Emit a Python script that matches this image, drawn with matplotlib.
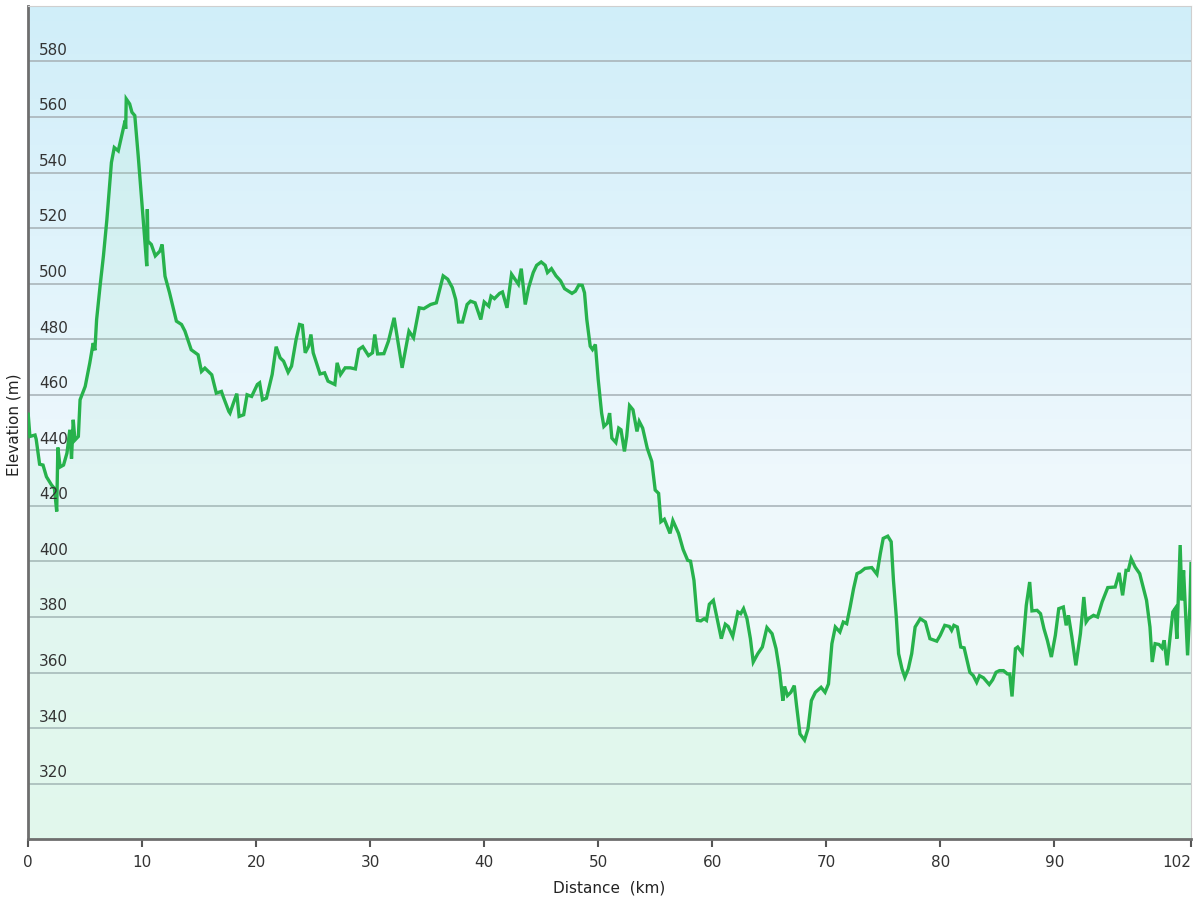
import matplotlib.pyplot as plt
import matplotlib.transforms as mtransforms
import numpy as np

# elevation profile (km, m)
distance_km = [
    0.0, 0.15, 0.6, 0.7, 1.0, 1.3, 1.6, 2.05, 2.3, 2.5, 2.6, 2.8, 3.1, 3.4, 3.65, 3.8,
    3.95, 4.1, 4.4, 4.55, 5.0, 5.4, 5.7, 5.85, 6.0, 6.3, 6.6, 6.9, 7.3, 7.55, 7.9, 8.2,
    8.5, 8.55, 8.6, 8.9, 9.1, 9.35, 9.65, 9.95, 10.2, 10.4, 10.45, 10.5, 10.8, 11.15,
    11.55, 11.75, 12.0, 12.4, 13.0, 13.45, 13.75, 14.3, 14.9, 15.2, 15.5, 16.1, 16.5,
    16.95, 17.1, 17.6, 17.7, 18.0, 18.3, 18.5, 18.9, 19.2, 19.6, 20.1, 20.3, 20.55,
    20.9, 21.4, 21.75, 22.1, 22.4, 22.8, 23.1, 23.5, 23.8, 24.05, 24.3, 24.6, 24.8,
    25.0, 25.6, 26.0, 26.3, 26.9, 27.1, 27.4, 27.8, 28.25, 28.7, 29.0, 29.35, 29.85,
    30.2, 30.4, 30.65, 31.2, 31.6, 32.1, 32.8, 33.4, 33.8, 34.3, 34.7, 35.3, 35.8,
    36.4, 36.8, 37.2, 37.5, 37.75, 38.1, 38.5, 38.8, 39.2, 39.7, 40.0, 40.4, 40.6,
    40.9, 41.35, 41.6, 42.0, 42.4, 42.8, 43.0, 43.25, 43.6, 43.9, 44.3, 44.6, 45.0,
    45.35, 45.55, 45.9, 46.3, 46.7, 47.05, 47.4, 47.7, 48.0, 48.3, 48.6, 48.8, 49.0,
    49.3, 49.5, 49.75, 50.0, 50.3, 50.5, 50.8, 51.0, 51.2, 51.55, 51.8, 52.0, 52.3,
    52.5, 52.75, 53.05, 53.4, 53.6, 53.9, 54.3, 54.7, 55.0, 55.3, 55.5, 55.8, 56.3,
    56.55, 57.05, 57.45, 57.85, 58.1, 58.4, 58.7, 59.0, 59.3, 59.5, 59.75, 60.1, 60.5,
    60.8, 61.15, 61.4, 61.8, 62.25, 62.5, 62.75, 63.05, 63.35, 63.6, 64.0, 64.4, 64.8,
    65.25, 65.6, 65.9, 66.2, 66.35, 66.6, 66.9, 67.2, 67.4, 67.7, 68.1, 68.4, 68.7,
    69.05, 69.55, 69.9, 70.2, 70.5, 70.8, 71.2, 71.5, 71.8, 72.1, 72.4, 72.7, 73.0,
    73.4, 74.0, 74.45, 74.75, 75.0, 75.4, 75.7, 75.9, 76.15, 76.35, 76.65, 76.9, 77.2,
    77.5, 77.8, 78.25, 78.7, 79.1, 79.7, 80.0, 80.4, 80.8, 81.0, 81.2, 81.5, 81.8,
    82.1, 82.6, 82.9, 83.2, 83.45, 83.8, 84.3, 84.6, 84.9, 85.2, 85.55, 85.9, 86.1,
    86.3, 86.6, 86.8, 87.2, 87.55, 87.85, 88.05, 88.5, 88.8, 89.1, 89.4, 89.75, 90.1,
    90.4, 90.8, 91.05, 91.25, 91.55, 91.9, 92.3, 92.6, 92.8, 93.0, 93.45, 93.8, 94.2,
    94.7, 95.35, 95.7, 96.0, 96.3, 96.5, 96.75, 97.1, 97.5, 97.8, 98.1, 98.4, 98.6,
    98.85, 99.2, 99.45, 99.65, 99.9, 100.2, 100.4, 100.6, 100.76, 101.05, 101.2,
    101.35, 101.7, 101.9, 102.0,
]
elevation_m = [
    453, 445, 445.5, 444, 435, 434.7, 430.5, 427.5, 426.3, 418, 441, 434, 434.7, 439,
    447.4, 437, 451, 443.7, 445, 458.2, 463, 471.4, 478.6, 476, 487, 499, 510, 523,
    543.6, 549, 547.8, 553.3, 558.7, 555.7, 566.5, 564.7, 561.7, 560.5, 546, 530.4,
    517.2, 506.3, 526.8, 515.3, 514.1, 510, 511.7, 514.1, 502.7, 496.7, 486.5, 485.3,
    482.9, 476.2, 474.4, 468.4, 469.6, 467.2, 460.6, 461.2, 459.4, 454, 453.4, 457,
    460.4, 452.2, 452.8, 460, 459.4, 463.7, 464.3, 458.2, 458.8, 467.3, 477.3, 473.3,
    472.1, 468.1, 470.3, 479.9, 485.3, 485, 475.1, 477.5, 481.7, 475.1, 467.5, 467.9,
    464.9, 463.7, 471.5, 467.3, 469.7, 469.7, 469.3, 476.3, 477.3, 474.1, 475.1, 481.7,
    474.7, 474.8, 479.3, 487.7, 469.7, 482.9, 480.5, 491.3, 491, 492.5, 493.1, 502.8,
    501.6, 498.6, 494.3, 486.2, 486.2, 492.5, 493.7, 493.1, 487.1, 493.4, 491.9, 495.5,
    494.6, 496.5, 497, 491.3, 503.4, 501, 499.8, 505.4, 492.5, 498.6, 504, 506.6,
    507.8, 506.6, 504, 505.4, 502.8, 501, 498.2, 497.3, 496.5, 497.3, 499.5, 499.4,
    496.7, 487.1, 477.5, 476.3, 478.1, 465.5, 453.4, 448.6, 449.8, 453.4, 444.4, 442.8,
    448, 447.4, 439.6, 445, 456.1, 454.6, 446.8, 450.4, 448, 440.8, 436, 425.7, 424.5,
    414.3, 415.2, 410.1, 414.7, 410.1, 404.3, 400.4, 400.1, 393.2, 378.8, 378.6, 379.4,
    378.8, 384.6, 386, 378.2, 372.2, 377.4, 376.6, 373, 381.8, 381.2, 383, 379.4, 372.2,
    363.8, 366.8, 369.2, 376.2, 374, 368.6, 360.8, 349.9, 355, 351.7, 352.9, 355.3,
    348.1, 337.9, 335.7, 339.7, 349.9, 352.9, 354.7, 352.9, 355.9, 370.4, 376.4, 374.6,
    378.2, 377.6, 383.6, 390.2, 395.6, 396.2, 397.5, 397.8, 395.4, 402.9, 408.3, 409.1,
    407.1, 393.2, 380, 366.8, 361.3, 358.3, 361.3, 366.8, 376.4, 379.4, 378.2, 372.2,
    371.3, 373.4, 377, 376.6, 375.2, 377, 376.4, 369.2, 368.9, 360.1, 358.9, 356.5,
    358.9, 358.1, 355.7, 357.4, 360.1, 360.7, 360.7, 359.5, 359.5, 351.4, 368.6, 369.2,
    367, 384.2, 392.6, 382.2, 382.4, 381.2, 375.8, 371.6, 365.6, 373.4, 383, 383.6, 377,
    380.6, 372.8, 362.6, 374, 387.2, 378.2, 379.4, 380.6, 380, 385.4, 390.6, 390.8,
    395.9, 387.8, 396.8, 396.8, 401, 398, 395.6, 390.8, 386, 376.4, 363.8, 370.4, 370.1,
    368.9, 371.6, 362.6, 374, 381.8, 383, 372.2, 405.9, 386, 396.8, 366.2, 383.4, 399.2,
]

x_ticks = [0, 10, 20, 30, 40, 50, 60, 70, 80, 90, 102]
y_ticks = [320, 340, 360, 380, 400, 420, 440, 460, 480, 500, 520, 540, 560, 580]

fig = plt.figure(figsize=(12, 9), dpi=100)
ax = fig.add_axes([0.0235, 0.0675, 0.969, 0.926])
ax.set_xlim(0, 102)
ax.set_ylim(300, 600)

# background gradient: light blue on top, pale mint at the bottom
grad = np.linspace(0, 1, 256).reshape(-1, 1)
top = np.array([208, 238, 249]) / 255
mid = np.array([238, 248, 253]) / 255
bot = np.array([238, 251, 244]) / 255
colors = np.where(grad < 0.55,
                  top + (mid - top) * (grad / 0.55),
                  mid + (bot - mid) * ((grad - 0.55) / 0.45))
ax.imshow(colors.reshape(256, 1, 3), extent=[0, 102, 300, 600],
          aspect="auto", origin="upper", zorder=0)
ax.set_ylim(300, 600)

for y in y_ticks:
    ax.axhline(y, color="#aab5ba", lw=1.2, zorder=1)

ax.fill_between(distance_km, elevation_m, 300, color="#8fe6b8", alpha=0.13,
                lw=0, zorder=2)
ax.plot(distance_km, elevation_m, color="#27b24c", lw=2.4, zorder=3,
        solid_joinstyle="miter")

# y labels sit inside the plot, just above their grid line
trans = mtransforms.blended_transform_factory(ax.transAxes, ax.transData)
for y in y_ticks:
    ax.text(0.0095, y + 1.3, str(y), transform=trans, fontsize=11,
            color="#333333", va="bottom", ha="left", zorder=4)
ax.set_yticks([])

ax.set_xticks(x_ticks)
ax.set_xticklabels([str(t) for t in x_ticks], fontsize=11, color="#333333")
ax.get_xticklabels()[-1].set_horizontalalignment("right")
ax.tick_params(axis="x", direction="out", length=6, width=1.5,
               color="#555555", pad=5)

ax.set_xlabel("Distance  (km)", fontsize=11, color="#222222", labelpad=8)
fig.text(0.012, 0.528, "Elevation (m)", rotation=90, fontsize=11,
         color="#222222", va="center", ha="center")

ax.spines["left"].set_color("#6e6e6e")
ax.spines["left"].set_linewidth(2)
ax.spines["bottom"].set_color("#6e6e6e")
ax.spines["bottom"].set_linewidth(2)
ax.spines["top"].set_color("#cfcfcf")
ax.spines["right"].set_color("#cfcfcf")

fig.savefig("out.png", dpi=100)
